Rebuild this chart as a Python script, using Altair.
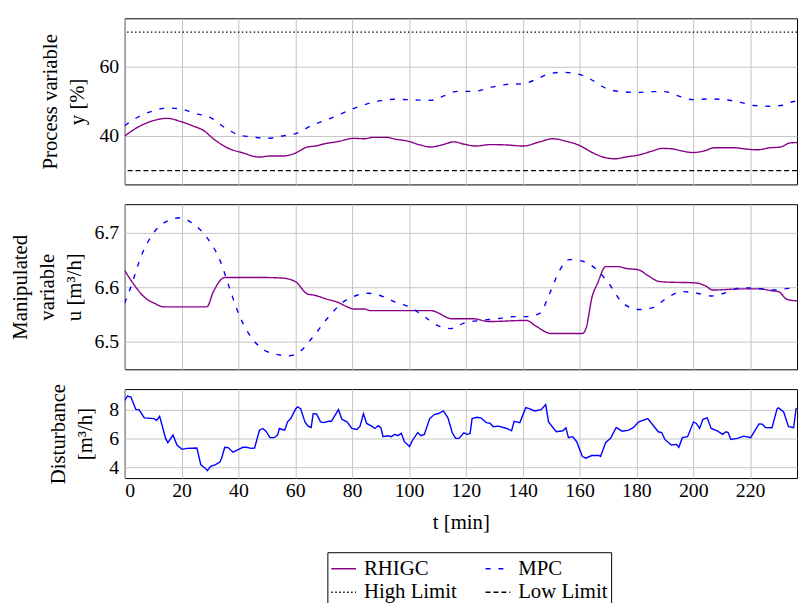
import altair as alt
import pandas as pd

# ---------------- data ----------------
X_TICKS = [0, 20, 40, 60, 80, 100, 120, 140, 160, 180, 200, 220]
X_MAX = 236.5

HIGH_LIMIT = 70
LOW_LIMIT = 30

T_Y_RHIGC = [0, 5.7, 9.2, 15, 19.6, 24, 27.7, 31.5, 35.8, 41.6, 47.4, 50.9, 55.5, 59.6, 64.2, 67.1,
             70.6, 75.2, 80.5, 84.5, 87.4, 92, 95, 99.6, 103.5, 107.7, 111.5, 115.8, 119.5, 123.4,
             128.6, 134.4, 140.2, 146, 150.6, 155.2, 159.9, 164.5, 169.2, 172.6, 176.1, 180.8,
             185.4, 188.9, 192.3, 195.8, 199.9, 203.9, 207.4, 214.4, 217.8, 222.5, 227.1, 230.6,
             234.1, 236.5]
Y_RHIGC = [40.0, 43.0, 44.2, 45.1, 44.2, 42.9, 41.6, 39.0, 36.7, 35.1, 33.9, 34.2, 34.2, 34.9, 36.8,
           37.1, 37.8, 38.4, 39.3, 39.2, 39.6, 39.6, 39.1, 38.5, 37.5, 36.8, 37.4, 38.3, 37.6, 37.1,
           37.5, 37.4, 37.1, 38.3, 39.2, 38.5, 37.3, 35.2, 33.7, 33.4, 33.9, 34.5, 35.6, 36.4, 36.3,
           35.7, 35.2, 35.7, 36.6, 36.6, 36.3, 36.0, 36.6, 36.8, 38.0, 38.1]

T_Y_MPC = [0, 5.7, 10.3, 15, 19.6, 25.4, 30, 35.8, 40.5, 45.1, 49.7, 55.5, 60.2, 66, 71.8, 78.7,
           83.4, 90.3, 95, 101.9, 107.7, 112.3, 117, 122.8, 128.6, 134.4, 140.2, 144.8, 149.5,
           154.1, 159.9, 164.5, 169.2, 175, 180.8, 185.4, 190, 194.7, 199.9, 206.3, 210.9, 216.7,
           221.3, 227.1, 231.8, 234.1, 236.5]
Y_MPC = [43.0, 45.9, 47.3, 48.1, 47.8, 46.4, 45.4, 42.1, 40.2, 39.7, 39.3, 40.0, 40.7, 43.1, 44.9,
         47.3, 48.8, 50.2, 50.6, 50.4, 50.3, 51.6, 52.9, 52.9, 54.0, 54.9, 55.1, 56.4, 58.0, 58.4,
         57.8, 56.1, 53.8, 52.8, 52.6, 52.8, 52.8, 51.6, 50.5, 50.7, 50.5, 49.7, 48.8, 48.6, 48.9,
         49.7, 50.1]

T_U_RHIGC = [0, 3.4, 6.9, 10.3, 13.8, 28.9, 31.2, 35.2, 48.6, 55.5, 57.8, 60.2, 64.2, 67.1, 70.6,
             75.2, 78.7, 80.5, 84.5, 86.3, 107.7, 115.2, 122.8, 128, 141.3, 144.8, 150, 161, 162.2,
             164.5, 166.3, 169.2, 173.8, 176.1, 180.8, 184.2, 187.7, 189.4, 201, 204.5, 206.8,
             216.7, 223.7, 227.1, 230, 232.9, 236.5]
U_RHIGC = [6.631, 6.604, 6.582, 6.571, 6.564, 6.564, 6.592, 6.618, 6.618, 6.617, 6.615, 6.610,
           6.588, 6.585, 6.579, 6.572, 6.563, 6.560, 6.560, 6.557, 6.557, 6.542, 6.542, 6.537,
           6.539, 6.528, 6.515, 6.515, 6.523, 6.584, 6.607, 6.638, 6.638, 6.635, 6.632, 6.621,
           6.611, 6.610, 6.608, 6.602, 6.595, 6.597, 6.597, 6.594, 6.592, 6.578, 6.575]

T_U_MPC = [0, 2.2, 5.7, 10.3, 15, 19.6, 24.3, 28.9, 33.5, 37.1, 40.5, 45.1, 50.9, 57.8, 61.3, 66,
           71.8, 76.4, 81, 85.7, 90.3, 95, 100.8, 105.4, 110, 114.7, 119.3, 125, 130.9, 136.6,
           141.3, 146, 149.5, 153, 156.4, 161, 165.7, 170.3, 175, 180.8, 185.4, 191.2, 195.8,
           200.5, 206.3, 210.9, 216.7, 222.5, 228.3, 233.5, 236.5]
U_MPC = [6.571, 6.601, 6.656, 6.701, 6.722, 6.728, 6.716, 6.692, 6.650, 6.595, 6.546, 6.504,
         6.480, 6.474, 6.480, 6.507, 6.546, 6.571, 6.584, 6.589, 6.584, 6.573, 6.562, 6.546,
         6.530, 6.524, 6.534, 6.539, 6.542, 6.546, 6.546, 6.552, 6.589, 6.631, 6.651, 6.648,
         6.634, 6.607, 6.572, 6.559, 6.562, 6.582, 6.592, 6.590, 6.584, 6.589, 6.599, 6.598,
         6.595, 6.598, 6.600]

T_D = [0, 1, 2.2, 3.9, 5.1, 6.9, 10.3, 11.2, 12.3, 14.4, 15.2, 17, 18.4, 20.2, 21.9, 25.4, 26.8,
       28.3, 29.1, 30.2, 31.8, 33.5, 34.1, 35.2, 36.4, 38.1, 39.9, 41.6, 42.7, 44.5, 45.7, 47.4,
       48.6, 49.7, 51.1, 52.6, 53.8, 54.4, 55.5, 56.3, 57.3, 58.4, 60.2, 60.8, 61.9, 63.4, 64.5,
       65.6, 66.3, 67.5, 68.9, 70, 71.8, 72.7, 75.2, 76.4, 78.2, 79.9, 81.7, 82.8, 84, 85.1, 86.9,
       88, 89.2, 90.1, 90.9, 92.6, 93.8, 95, 96.1, 97.3, 98.4, 100.2, 101.3, 103.1, 104.2, 105.4,
       107.3, 108.9, 110.6, 112.1, 113.7, 115.2, 116.4, 117.6, 119.3, 120.5, 121.5, 122.2, 123.9,
       125.3, 127.2, 128.6, 129.7, 131.5, 134.4, 136.1, 137.0, 139, 141.1, 142.3, 144.2, 146.5,
       148.1, 149.1, 151.8, 154.1, 155.2, 156.1, 157.6, 159, 161, 162.2, 164.3, 166.8, 167.4,
       169.2, 170.9, 172.9, 175, 177.3, 179, 180.8, 184, 186, 187.7, 188.9, 190, 192.3, 194.1,
       194.9, 196.2, 198, 200.1, 201.1, 202.2, 203.4, 204.9, 206.3, 208.6, 210.3, 211.5, 212.3,
       213.2, 215.5, 217.8, 220.2, 223.1, 224.3, 225.4, 227.7, 229.5, 230, 231.8, 233.5, 235.3,
       236.2]
D = [8.66, 8.97, 8.90, 8.04, 8.00, 7.45, 7.40, 7.27, 7.56, 6.02, 5.72, 6.25, 5.56, 5.26, 5.33,
     5.35, 4.18, 3.95, 3.77, 4.07, 4.18, 4.37, 4.64, 5.40, 5.38, 5.06, 5.24, 5.40, 5.40, 5.33,
     5.35, 6.59, 6.71, 6.52, 6.07, 6.07, 6.25, 6.71, 6.64, 6.60, 7.17, 7.40, 8.09, 8.21, 8.09,
     7.17, 6.87, 6.78, 7.74, 7.72, 7.17, 7.12, 7.21, 7.21, 8.02, 7.35, 7.17, 6.71, 6.64, 6.87,
     7.74, 7.06, 6.87, 6.71, 6.90, 6.76, 6.14, 6.20, 6.14, 6.30, 6.21, 6.37, 5.79, 5.45, 5.91,
     6.43, 6.21, 6.30, 7.40, 7.68, 7.77, 7.93, 7.45, 6.43, 6.02, 6.02, 6.41, 6.30, 6.37, 7.40,
     7.49, 7.45, 7.12, 7.06, 6.83, 6.87, 6.71, 6.55, 7.21, 7.12, 8.16, 8.09, 7.93, 8.02, 8.37,
     7.17, 6.48, 6.55, 6.76, 6.07, 6.14, 5.79, 4.76, 4.64, 4.83, 4.83, 4.76, 5.74, 6.02, 6.78,
     6.52, 6.60, 6.78, 7.17, 7.40, 6.90, 6.48, 6.43, 5.95, 5.56, 5.60, 5.40, 6.07, 6.14, 7.17,
     7.06, 6.71, 7.35, 7.45, 6.71, 6.52, 6.30, 6.48, 6.43, 5.95, 6.02, 6.18, 6.07, 7.03, 7.01,
     6.78, 6.76, 8.09, 8.14, 7.86, 6.83, 6.76, 8.14]

# legend fills column by column: (RHIGC, High Limit) | (MPC, Low Limit)
SERIES = ["RHIGC", "High Limit", "MPC", "Low Limit"]
COLORS = ["#880088", "#000000", "#0000ff", "#000000"]
DASHES = [[1, 0], [1.5, 2.5], [5, 8], [5, 3]]

FONT = "Liberation Serif"

# ---------------- tables ----------------
y_df = pd.concat([
    pd.DataFrame({"t": T_Y_RHIGC, "v": Y_RHIGC, "s": "RHIGC"}),
    pd.DataFrame({"t": T_Y_MPC, "v": Y_MPC, "s": "MPC"}),
])
lim_df = pd.DataFrame({"v": [HIGH_LIMIT, LOW_LIMIT], "s": ["High Limit", "Low Limit"]})
u_df = pd.concat([
    pd.DataFrame({"t": T_U_RHIGC, "v": U_RHIGC, "s": "RHIGC"}),
    pd.DataFrame({"t": T_U_MPC, "v": U_MPC, "s": "MPC"}),
])
d_df = pd.DataFrame({"t": T_D, "v": D})

color = alt.Color("s:N", scale=alt.Scale(domain=SERIES, range=COLORS),
                  legend=alt.Legend(title=None, orient="none", legendX=205, legendY=540,
                                    columns=2, symbolType="stroke", symbolSize=625,
                                    symbolStrokeWidth=1.5, labelFont=FONT, labelFontSize=21,
                                    strokeColor="black", padding=3, columnPadding=26,
                                    rowPadding=-2, labelLimit=300, labelOffset=7))
dash = alt.StrokeDash("s:N", scale=alt.Scale(domain=SERIES, range=DASHES), legend=None)

xscale = alt.Scale(domain=[0, X_MAX], nice=False, zero=False)
x_hidden = alt.X("t:Q", scale=xscale,
                 axis=alt.Axis(values=X_TICKS, labels=False, ticks=False, domain=False, title=None))

W = 680

# panel 1
p1_lines = alt.Chart(y_df).mark_line(strokeWidth=1.4, clip=True, interpolate="monotone").encode(
    x=x_hidden,
    y=alt.Y("v:Q", scale=alt.Scale(domain=[26, 74], nice=False, zero=False),
            axis=alt.Axis(values=[40, 60], title=["Process variable", "y [%]"], domain=False,
                          ticks=False, titlePadding=12)),
    color=color, strokeDash=dash, detail="s:N",
)
p1_lims = alt.Chart(lim_df).mark_rule(strokeWidth=1.3).encode(
    y="v:Q", color=color, strokeDash=dash,
)
p1 = alt.layer(p1_lims, p1_lines).properties(width=W, height=168)

# panel 2
p2 = alt.Chart(u_df).mark_line(strokeWidth=1.4, clip=True, interpolate="monotone").encode(
    x=x_hidden,
    y=alt.Y("v:Q", scale=alt.Scale(domain=[6.449, 6.753], nice=False, zero=False),
            axis=alt.Axis(values=[6.5, 6.6, 6.7], format=".1f",
                          title=["Manipulated", "variable", "u [m³/h]"], domain=False,
                          ticks=False, titlePadding=10)),
    color=color, strokeDash=dash, detail="s:N",
).properties(width=W, height=167)

# panel 3
p3 = alt.Chart(d_df).mark_line(strokeWidth=1.4, clip=True, color="#0000ff").encode(
    x=alt.X("t:Q", scale=xscale,
            axis=alt.Axis(values=X_TICKS, title="t [min]", domain=False, ticks=False,
                          labelPadding=3, titlePadding=11)),
    y=alt.Y("v:Q", scale=alt.Scale(domain=[3.26, 9.45], nice=False, zero=False),
            axis=alt.Axis(values=[4, 6, 8], title=["Disturbance", "[m³/h]"], domain=False,
                          ticks=False, titlePadding=14)),
).properties(width=W, height=90)

chart = alt.vconcat(p1, p2, p3, spacing=20, bounds="flush").properties(
    padding={"left": 1, "top": 6, "right": 0, "bottom": 0}
).configure_view(
    stroke="black", strokeWidth=1
).configure_axis(
    labelFont=FONT, labelFontSize=20, labelColor="#000",
    titleFont=FONT, titleFontSize=21, titleFontWeight="normal", titleColor="#000",
    titleLineHeight=27, gridColor="#c4c4c4", gridWidth=1, labelPadding=6,
).configure_concat(spacing=20)

chart.save("out.html", embed_options={"renderer": "svg", "actions": False})
